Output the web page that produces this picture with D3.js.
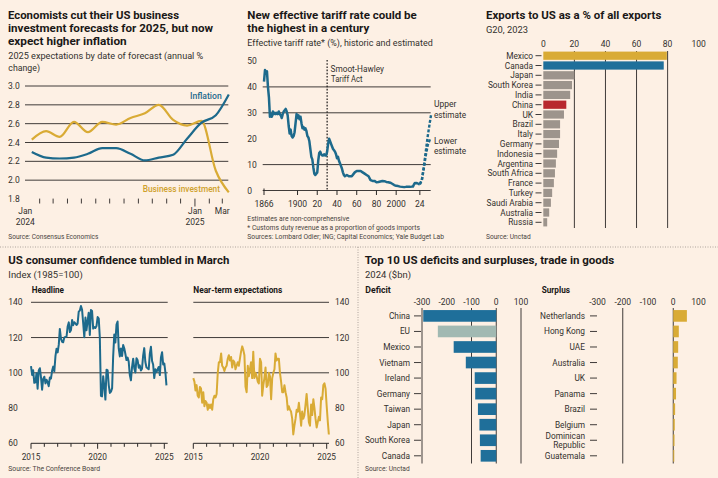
<!DOCTYPE html>
<html><head><meta charset="utf-8">
<script src="https://cdn.jsdelivr.net/npm/d3@7"></script>
<style>
html,body{margin:0;padding:0;background:#fdf0e4;}
svg{display:block;font-family:Roboto,"Noto Sans",sans-serif;}
</style></head><body>
<svg id="c" width="718" height="478"></svg>
<script>
// ---------- DATA ----------
// Panel 1: Consensus Economics 2025 expectations (mid-month forecasts, Jan 2024 - Mar 2025)
const forecastMonths = ["2024-01","2024-02","2024-03","2024-04","2024-05","2024-06","2024-07","2024-08","2024-09","2024-10","2024-11","2024-12","2025-01","2025-02","2025-03"];
const inflation = [2.30,2.24,2.23,2.24,2.28,2.34,2.34,2.28,2.21,2.24,2.27,2.44,2.61,2.69,2.91];
const businessInvestment = [2.43,2.52,2.46,2.62,2.51,2.62,2.59,2.66,2.71,2.80,2.64,2.58,2.63,2.10,1.87];
const p1YTicks = [1.8,2.0,2.2,2.4,2.6,2.8,3.0];

// Panel 2: effective tariff rate (%)
const tariffYears = [1866,1867,1868,1869,1870,1871,1872,1873,1874,1875,1876,1877,1878,1879,1880,1881,1882,1883,1884,1885,1886,1887,1888,1889,1890,1891,1892,1893,1894,1895,1896,1897,1898,1899,1900,1901,1902,1903,1904,1905,1906,1907,1908,1909,1910,1911,1912,1913,1914,1915,1916,1917,1918,1919,1920,1921,1922,1923,1924,1925,1926,1927,1928,1929,1930,1931,1932,1933,1934,1935,1936,1937,1938,1939,1940,1941,1942,1943,1944,1945,1946,1947,1948,1950,1952,1955,1958,1960,1962,1964,1966,1968,1970,1972,1974,1976,1978,1980,1982,1984,1986,1988,1990,1992,1994,1996,1998,2000,2002,2004,2006,2008,2010,2012,2014,2016,2017,2018,2019,2020,2021,2022,2023,2024];
const tariffRates = [42,46.5,45.5,46,40,36,28.5,29.5,28.5,30.5,29.5,30,29.5,30,29.5,30.5,29.5,29,28,29.5,30.5,31,31.5,30.5,29,25,22,23.5,21,20.5,21,22.5,26,29.5,28,29,27.5,28.5,26,24,24.5,23.5,24,23,21,20.5,19,16,13,12,9,6.5,6,6.5,7,11.5,14.5,15,14,13.5,13.5,14,13.5,13.5,15,18,20,19,18,17,16,15.5,15,14,12.5,13,11.5,10.5,9.5,8.5,7,6,5.5,6,5.5,5.5,7,7.5,7.5,7.5,7,6.5,6,5.5,4,3.7,3.7,3.2,3.3,3.5,3.7,3.6,3.3,3.2,3,2.6,2.1,1.8,1.7,1.5,1.4,1.3,1.4,1.4,1.4,1.5,1.5,2.3,2.9,2.8,2.9,2.7,2.5,2.4];
const upperYears = [2024,2026,2028,2030,2032,2034,2035.5];
const upperRates = [2.4,4,9,15,21,26,29.5];
const lowerYears = [2024,2026,2028,2030,2032,2034.5];
const lowerRates = [2.4,4,8.5,13.5,17.5,20];
const tariffYTicks = [0,10,20,30,40,50];
const tariffGrid = [0,10,30,40];
const tariffXTicks = [1866,1900,1920,1940,1960,1980,2000,2024];
const tariffXLabels = ["1866","1900","20","40","60","80","2000","24"];

// Panel 3: exports to US as % of all exports
const expCountries = ["Mexico","Canada","Japan","South Korea","India","China","UK","Brazil","Italy","Germany","Indonesia","Argentina","South Africa","France","Turkey","Saudi Arabia","Australia","Russia"];
const expShare = [79.5,77.5,20,18.5,17.3,14.8,13.3,10.8,10.8,10.1,8.9,8.1,7.5,6.8,5.7,4.9,3.8,2.5];
const expTicks = [0,20,40,60,80,100];

// Panel 4: Conference Board consumer confidence, monthly Jan 2015 - Mar 2025
const headline = [103.8,98.8,101.4,94.3,94.6,99.8,91.0,101.3,102.6,97.6,90.4,96.5,
 97.8,94.0,96.1,94.7,92.4,97.4,96.7,101.1,103.5,100.8,109.4,113.7,
 111.6,116.1,124.9,119.4,117.6,117.3,120.0,120.4,120.6,126.2,128.6,123.1,
 124.3,130.0,127.0,128.7,128.0,127.1,127.9,134.7,135.3,137.9,135.7,128.1,
 120.2,131.4,124.1,129.2,134.1,121.5,135.7,135.1,125.1,125.9,125.5,126.5,
 131.6,130.7,120.0,86.9,86.6,98.1,92.6,84.8,101.8,101.4,92.9,88.6,
 89.3,91.3,109.0,121.7,117.2,127.3,129.1,113.8,109.3,113.8,109.5,115.8,
 113.8,110.5,107.2,108.6,106.4,98.7,95.7,103.2,108.0,102.5,100.2,108.3,
 107.1,102.9,104.2,101.3,102.3,109.7,114.0,106.1,103.0,102.6,102.0,110.7,
 114.8,106.7,104.7,97.0,102.0,100.4,101.9,103.3,98.7,108.7,111.7,104.7,
 105.3,100.1,92.9];
const nearTerm = [97,95,90,93,87,86,92,91,83,89,81,84,
 83,79,82,80,82,79,85,87,86,88,100,106,
 106,111,104,103,101,103,104,108,110,107,109,103,
 107,106,102,104,106,104,108,112,115,113,110,92,
 89,104,98,102,106,97,112,97,100,98,95,94,
 108,106,87,93,97,103,92,93,100,98,85,97,
 100,102,111,107,108,108,100,95,89,89,93,89,
 86,79,81,79,78,74,65,70,74,79,78,83,
 77,70,78,74,76,82,88,80,72,70,82,76,
 85,80,74,69,72,75,73,86,85,93,94,91,
 81,72,65];
const confYTicks = [60,80,100,120,140];
const confGrid = [100,120,140];
const confXLabels = [2015,2020,2025];

// Panel 5/6: top 10 US deficits and surpluses, 2024 ($bn)
const defCountries = ["China","EU","Mexico","Vietnam","Ireland","Germany","Taiwan","Japan","South Korea","Canada"];
const defValues = [-295,-236,-172,-123,-87,-85,-74,-68,-66,-63];
const surCountries = ["Netherlands","Hong Kong","UAE","Australia","UK","Panama","Brazil","Belgium","Dominican Republic","Guatemala"];
const surValues = [54,22,19.5,18,13,11,7.4,6,5,4];
const tradeTicks = [-300,-200,-100,0,100];
const defGrid = [-300,-100,0,100];
const surGrid = [-200,0];

// ---------- STYLE ----------
const INK="#1a1817", LAB="#33302e", SRC="#4a4541", GRID="#2a2726";
const BLUE="#1d6a8c", GOLD="#d9ab35", BARBLUE="#1f6f9a", RED="#b8282e", GREY="#9d948c", EUC="#a1b9b2";

const svg = d3.select("#c");
svg.append("rect").attr("width",718).attr("height",478).attr("fill","#fdf0e4");

function T(g, s, x, y, o={}) {
  const t = g.append("text").attr("x", x).attr("y", y).text(s)
    .attr("font-size", o.size || 8.5)
    .attr("font-weight", o.weight || 400)
    .attr("fill", o.fill || LAB)
    .attr("text-anchor", o.anchor || "start");
  if (o.w) t.attr("textLength", o.w).attr("lengthAdjust", "spacingAndGlyphs");
  return t;
}
function title(g, s, x, y, w){ return T(g,s,x,y,{size:11.6,weight:700,fill:INK,w:w}); }
function sub(g, s, x, y, w){ return T(g,s,x,y,{size:9.3,fill:LAB,w:w}); }
function src(g, s, x, y, w){ return T(g,s,x,y,{size:6.9,fill:SRC,w:w}); }
function hline(g,x1,x2,y,c,sw){ g.append("line").attr("x1",x1).attr("x2",x2).attr("y1",y).attr("y2",y).attr("stroke",c||GRID).attr("stroke-width",sw||0.9); }
function vline(g,x,y1,y2,c,sw){ g.append("line").attr("x1",x).attr("x2",x).attr("y1",y1).attr("y2",y2).attr("stroke",c||GRID).attr("stroke-width",sw||0.9); }

// separators
svg.append("line").attr("x1",0).attr("x2",718).attr("y1",247).attr("y2",247)
  .attr("stroke","#9a918a").attr("stroke-width",0.8).attr("stroke-dasharray","1,1.5");
svg.append("line").attr("x1",358).attr("x2",358).attr("y1",247).attr("y2",478)
  .attr("stroke","#9a918a").attr("stroke-width",0.8).attr("stroke-dasharray","1,1.5");

// ---------- PANEL 1 ----------
{
  const g = svg.append("g");
  title(g,"Economists cut their US business",8,19,171);
  title(g,"investment forecasts for 2025, but now",8,31.8,205);
  title(g,"expect higher inflation",8,44.6,118.7);
  sub(g,"2025 expectations by date of forecast (annual %",8.3,59,195);
  sub(g,"change)",8.3,71.3,31.7);

  const parse = d3.timeParse("%Y-%m");
  const dates = forecastMonths.map(m => d3.timeDay.offset(parse(m), 14));
  const x = d3.scaleTime().domain([new Date(2024,0,1), new Date(2025,2,1)]).range([25.3,222.3]);
  const y = d3.scaleLinear().domain([1.8,3.0]).range([199,86]);

  p1YTicks.forEach(v => {
    if (v > 1.85) hline(g,25,228.3,y(v));
    T(g, v.toFixed(1), 8, y(v)+3, {size:8.5});
  });
  d3.timeMonth.range(new Date(2024,1,1), new Date(2025,2,2)).forEach(d => {
    const long = d.getMonth()===0;
    vline(g, x(d), 198.6, long?206.5:203.5, GRID, 0.9);
  });
  T(g,"Jan",x(new Date(2024,0,1)),214,{anchor:"middle"});
  T(g,"2024",x(new Date(2024,0,1)),224.5,{anchor:"middle"});
  T(g,"Jan",x(new Date(2025,0,1)),214,{anchor:"middle"});
  T(g,"2025",x(new Date(2025,0,1)),224.5,{anchor:"middle"});
  T(g,"Mar",x(new Date(2025,2,1)),214,{anchor:"middle"});

  const line = d3.line().x((d,i)=>x(dates[i])).y(d=>y(d)).curve(d3.curveMonotoneX);
  g.append("path").attr("d",line(businessInvestment)).attr("fill","none").attr("stroke",GOLD).attr("stroke-width",2.2);
  g.append("path").attr("d",line(inflation)).attr("fill","none").attr("stroke",BLUE).attr("stroke-width",2.2);
  T(g,"Inflation",221.7,99,{anchor:"end",weight:500,fill:BLUE,w:31.7});
  T(g,"Business investment",220,192,{anchor:"end",weight:500,fill:"#cfa12c",w:77.3});
  src(g,"Source: Consensus Economics",8.3,239,90);
}

// ---------- PANEL 2 ----------
{
  const g = svg.append("g");
  title(g,"New effective tariff rate could be",247.3,19,169.4);
  title(g,"the highest in a century",247.3,31.8,122);
  sub(g,"Effective tariff rate* (%), historic and estimated",247.3,45.5,185.4);

  const x = d3.scaleLinear().domain([1866,2035]).range([264,430.7]);
  const y = d3.scaleLinear().domain([0,50]).range([190.5,61]);
  tariffGrid.forEach(v => hline(g,262.7,430.7,y(v)));
  tariffYTicks.forEach(v => T(g,String(v),247.3,y(v)+3,{size:8.5}));
  tariffXTicks.forEach((v,i) => {
    vline(g,x(v),i===0?188.5:190.5,195,GRID,1);
    T(g,tariffXLabels[i],x(v),207,{anchor:"middle",size:8.5});
  });
  // Smoot-Hawley
  g.append("line").attr("x1",x(1930)).attr("x2",x(1930)).attr("y1",60).attr("y2",190.5)
    .attr("stroke",INK).attr("stroke-width",1.2).attr("stroke-dasharray","1.6,1.6");
  T(g,"Smoot-Hawley",330.5,72,{size:8.5,w:53.5});
  T(g,"Tariff Act",331,82.3,{size:8.5,w:31.5});

  const line = d3.line().x(d=>x(d[0])).y(d=>y(d[1]));
  g.append("path").attr("d",line(d3.zip(upperYears,upperRates))).attr("fill","none").attr("stroke",BLUE)
    .attr("stroke-width",2.4).attr("stroke-dasharray","3,1.8");
  g.append("path").attr("d",line(d3.zip(lowerYears,lowerRates))).attr("fill","none").attr("stroke",BLUE)
    .attr("stroke-width",2.4).attr("stroke-dasharray","3,1.8");
  g.append("path").attr("d",line(d3.zip(tariffYears,tariffRates))).attr("fill","none").attr("stroke",BLUE)
    .attr("stroke-width",2.5).attr("stroke-linejoin","round");

  T(g,"Upper",434,107.3,{size:8.5});
  T(g,"estimate",434,117.5,{size:8.5,w:32});
  T(g,"Lower",434,143.8,{size:8.5});
  T(g,"estimate",434,154,{size:8.5,w:32});

  src(g,"Estimates are non-comprehensive",247.3,220.8,102);
  src(g,"* Customs duty revenue as a proportion of goods imports",247.3,230,172.7);
  src(g,"Sources: Lombard Odier; ING; Capital Economics; Yale Budget Lab",247.3,239.2,196.7);
}

// ---------- PANEL 3 ----------
{
  const g = svg.append("g");
  title(g,"Exports to US as a % of all exports",486,19,175.3);
  sub(g,"G20, 2023",486,33.3,42);
  const x = d3.scaleLinear().domain([0,100]).range([543.3,698.7]);
  const y = d3.scaleBand().domain(expCountries).range([50.8,227.2]).paddingInner(0.16).paddingOuter(0.08);
  expTicks.forEach(v => {
    T(g,String(v),x(v),46.7,{anchor:"middle",size:8.5});
    if (v>0 && v<100) vline(g,x(v),51,228);
  });
  const colorOf = c => c==="Mexico"?GOLD:(c==="Canada"?BARBLUE:(c==="China"?RED:GREY));
  g.selectAll("rect.e").data(expCountries).join("rect")
    .attr("x",x(0)).attr("y",c=>y(c)).attr("height",y.bandwidth())
    .attr("width",(c,i)=>x(expShare[i])-x(0)).attr("fill",colorOf);
  expCountries.forEach(c => {
    const cy = y(c)+y.bandwidth()/2;
    T(g,c,533,cy+3,{anchor:"end",size:8.3});
    hline(g,535.5,541.5,cy,GRID,0.9);
  });
  src(g,"Source: Unctad",486,239,44.7);
}

// ---------- PANEL 4 ----------
{
  const g = svg.append("g");
  title(g,"US consumer confidence tumbled in March",8.3,264,221);
  sub(g,"Index (1985=100)",8.3,277.5,74.4);
  T(g,"Headline",31.7,292.7,{size:8.3,weight:700,fill:INK,w:32.3});
  T(g,"Near-term expectations",193.3,292.7,{size:8.3,weight:700,fill:INK,w:89});

  const months = d3.timeMonth.range(new Date(2015,0,1), new Date(2025,3,1));
  const y = d3.scaleLinear().domain([60,140]).range([443.3,302.3]);
  const years = d3.range(2015,2026);

  function panel(x0, x1, xEnd, series, color, labelX, labelAnchor){
    const x = d3.scaleTime().domain([new Date(2015,0,1), new Date(2025,0,1)]).range([x0,x1]);
    confGrid.forEach(v => hline(g,x0,xEnd,y(v)));
    hline(g,x0,xEnd,y(60),GRID,1);
    years.forEach(yr => {
      const long = yr%5===0;
      vline(g,x(new Date(yr,0,1)),y(60),y(60)+(long?5.5:3.5),GRID,1);
    });
    confXLabels.forEach(yr => T(g,String(yr),x(new Date(yr,0,1)),460,{anchor:"middle",size:8.3}));
    confYTicks.forEach(v => T(g,String(v),labelX,y(v)+3,{size:8.5,anchor:labelAnchor}));
    const line = d3.line().x((d,i)=>x(months[i])).y(d=>y(d)).curve(d3.curveLinear);
    g.append("path").attr("d",line(series)).attr("fill","none").attr("stroke",color)
      .attr("stroke-width",2).attr("stroke-linejoin","round");
  }
  panel(31,164.3,167.7,headline,BLUE,8.3,"start");
  panel(193.3,326.7,329,nearTerm,GOLD,335,"start");
  src(g,"Source: The Conference Board",8.3,471,91.7);
}

// ---------- PANEL 5/6 ----------
{
  const g = svg.append("g");
  title(g,"Top 10 US deficits and surpluses, trade in goods",364.7,264,249.6);
  sub(g,"2024 ($bn)",365,277.5,46);
  T(g,"Deficit",365.3,292.7,{size:8.3,weight:700,fill:INK,w:25.4});
  T(g,"Surplus",541.7,292.7,{size:8.3,weight:700,fill:INK,w:28.3});

  function bars(names, vals, xr, grid, labelEnd, tickX, colorFn){
    const x = d3.scaleLinear().domain([-300,100]).range(xr);
    const y = d3.scaleBand().domain(names).range([308.2,463.5]).paddingInner(0.25).paddingOuter(0.12);
    tradeTicks.forEach(v => T(g,String(v).replace("-","-"),x(v),305,{anchor:"middle",size:8.5}));
    grid.forEach(v => vline(g,x(v),308,463.5));
    g.append("g").selectAll("rect").data(names).join("rect")
      .attr("x",(c,i)=>x(Math.min(0,vals[i]))).attr("y",c=>y(c)).attr("height",y.bandwidth())
      .attr("width",(c,i)=>Math.abs(x(vals[i])-x(0))).attr("fill",colorFn);
    names.forEach(c => {
      const cy = y(c)+y.bandwidth()/2;
      if (c==="Dominican Republic"){
        T(g,"Dominican",labelEnd,cy-1.5,{anchor:"end",size:8.3});
        T(g,"Republic",labelEnd,cy+7.3,{anchor:"end",size:8.3});
      } else {
        T(g,c,labelEnd,cy+3,{anchor:"end",size:8.3});
      }
      hline(g,tickX[0],tickX[1],cy,GRID,0.9);
    });
  }
  bars(defCountries, defValues, [422,521], defGrid, 410, [414,421], c => c==="EU"?EUC:BARBLUE);
  bars(surCountries, surValues, [597.5,698.5], surGrid, 585, [590,597], () => GOLD);
  src(g,"Source: Unctad",365,471,44.7);
}
</script>
</body></html>
